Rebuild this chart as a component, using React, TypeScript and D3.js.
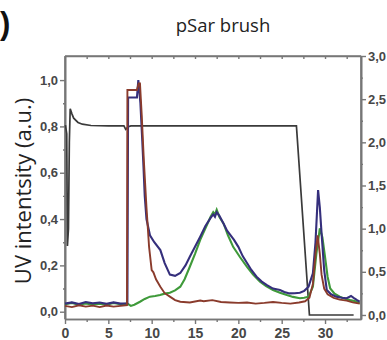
import React, { useEffect, useRef } from 'react';
import * as d3 from 'd3';

// elution traces: [time (min), intensity]
const blueTrace: [number, number][] = [
  [0, 0.035], [0.8, 0.04], [1.6, 0.033], [2.4, 0.042], [3.2, 0.036], [4, 0.04], [4.8, 0.034], [5.6, 0.04],
  [6.4, 0.035], [7.2, 0.036], [7.28, 0.925], [8.3, 0.925], [8.46, 1.0], [8.7, 0.9], [8.9, 0.75], [9.05, 0.63],
  [9.2, 0.5], [9.4, 0.4], [9.8, 0.33], [10.3, 0.3], [11.0, 0.266], [11.5, 0.21], [12.1, 0.16], [12.7, 0.155],
  [13.3, 0.167], [13.9, 0.2], [14.4, 0.237], [15.0, 0.28], [15.6, 0.324], [16.2, 0.37], [16.8, 0.405],
  [17.1, 0.42], [17.3, 0.41], [17.5, 0.43], [17.8, 0.415], [18.3, 0.38], [18.7, 0.35], [19.0, 0.335],
  [19.5, 0.31], [20.0, 0.28], [20.5, 0.24], [21.0, 0.21], [21.5, 0.18], [22.1, 0.151], [22.7, 0.13],
  [23.3, 0.115], [24.0, 0.1], [24.8, 0.094], [25.3, 0.085], [25.9, 0.079], [26.5, 0.08], [27.1, 0.082],
  [27.6, 0.09], [28.1, 0.108], [28.6, 0.166], [28.9, 0.3], [29.2, 0.525], [29.4, 0.45], [29.6, 0.338],
  [29.9, 0.18], [30.2, 0.094], [30.7, 0.075], [31.3, 0.065], [31.9, 0.06], [32.5, 0.058], [33.0, 0.068],
  [33.3, 0.06], [33.7, 0.05], [34.0, 0.043],
];

const redTrace: [number, number][] = [
  [0, 0.025], [0.8, 0.02], [1.6, 0.028], [2.4, 0.022], [3.2, 0.026], [4, 0.02], [4.8, 0.027], [5.6, 0.022],
  [6.4, 0.025], [7.15, 0.028], [7.2, 0.957], [8.3, 0.957], [8.5, 0.985], [8.65, 0.985], [8.85, 0.85],
  [9.1, 0.65], [9.4, 0.45], [9.7, 0.28], [10.0, 0.18], [10.2, 0.17], [10.5, 0.14], [11.0, 0.108],
  [11.5, 0.08], [12.1, 0.065], [12.7, 0.05], [13.3, 0.043], [14.4, 0.04], [15.6, 0.048], [16, 0.045],
  [17, 0.05], [18, 0.042], [19, 0.04], [20, 0.038], [21, 0.04], [22, 0.035], [23, 0.038], [24, 0.042],
  [25, 0.038], [26, 0.035], [27, 0.04], [27.7, 0.045], [28.2, 0.06], [28.6, 0.12], [28.9, 0.25],
  [29.15, 0.33], [29.4, 0.25], [29.6, 0.16], [29.9, 0.1], [30.3, 0.075], [31, 0.06], [31.7, 0.052],
  [32.5, 0.048], [33.2, 0.04], [34.0, 0.035],
];

const greenTrace: [number, number][] = [
  [0, 0.032], [0.8, 0.038], [1.6, 0.03], [2.4, 0.036], [3.2, 0.03], [4, 0.035], [4.8, 0.03], [5.6, 0.038],
  [6.4, 0.032], [7.2, 0.035], [7.6, 0.025], [8.0, 0.03], [8.65, 0.043], [9.2, 0.055], [9.8, 0.065],
  [10.4, 0.068], [10.96, 0.072], [11.5, 0.078], [12.1, 0.082], [12.7, 0.092], [13.3, 0.108], [13.8, 0.14],
  [14.4, 0.194], [15.0, 0.25], [15.6, 0.31], [16.2, 0.36], [16.8, 0.41], [17.1, 0.43], [17.3, 0.42],
  [17.5, 0.44], [17.8, 0.41], [18.3, 0.38], [18.8, 0.33], [19.4, 0.28], [20.2, 0.235], [21.0, 0.194],
  [21.7, 0.16], [22.5, 0.129], [23.2, 0.11], [24.0, 0.094], [24.8, 0.082], [25.6, 0.072], [26.3, 0.064],
  [27.1, 0.058], [27.6, 0.06], [28.1, 0.065], [28.6, 0.108], [29.0, 0.25], [29.4, 0.36], [29.7, 0.32],
  [30.0, 0.237], [30.3, 0.15], [30.6, 0.1], [31.1, 0.078], [31.7, 0.065], [32.3, 0.056], [32.9, 0.05],
  [33.5, 0.045], [34.0, 0.036],
];

// black trace belongs to the right axis
const blackTrace: [number, number][] = [
  [0.05, 2.2], [0.2, 2.1], [0.28, 0.8], [0.4, 1.0], [0.5, 2.0], [0.6, 2.39], [0.8, 2.33], [1.0, 2.28],
  [1.5, 2.23], [2, 2.21], [3, 2.195], [5, 2.19], [6.8, 2.19], [7.0, 2.15], [7.3, 2.18], [7.6, 2.19],
  [26.7, 2.19], [28.2, 0.0], [33.3, 0.0],
];

const xTicks = [0, 5, 10, 15, 20, 25, 30];
const leftTicks = [0, 0.2, 0.4, 0.6, 0.8, 1.0];
const rightTicks = [0, 0.5, 1.0, 1.5, 2.0, 2.5, 3.0];

const fmt = (d: number) => d.toFixed(1).replace('.', ',');

const App = () => {
  const svgRef = useRef<SVGSVGElement>(null);

  useEffect(() => {
    const svg = d3.select(svgRef.current);
    svg.selectAll('*').remove();

    const left = 65, right = 361, top = 56, bottom = 319;

    const x = d3.scaleLinear().domain([0, 34.15]).range([left, right]);
    const yL = d3.scaleLinear().domain([-0.0315, 1.104]).range([bottom, top]);
    const yR = d3.scaleLinear().domain([-0.0465, 3.0]).range([bottom, top]);

    const axisColor = '#777';
    const labelColor = '#474747';

    const styleAxis = (g: any) => {
      g.select('.domain').attr('stroke', axisColor).attr('stroke-width', 1.6);
      g.selectAll('.tick line').attr('stroke', axisColor).attr('stroke-width', 1.4);
      g.selectAll('text')
        .attr('fill', labelColor)
        .style('font-family', '"Liberation Sans", Arial, sans-serif')
        .style('font-weight', 'bold');
    };

    // minor ticks first, then major ticks with labels
    const minor = (axis: any) => axis.tickFormat(() => '').tickSizeOuter(0);

    svg.append('g').attr('transform', `translate(0,${bottom})`)
      .call(minor(d3.axisBottom(x).tickValues(d3.range(2.5, 34, 5)).tickSize(3)))
      .call(styleAxis);
    svg.append('g').attr('transform', `translate(0,${bottom})`)
      .call(d3.axisBottom(x).tickValues(xTicks).tickFormat(d3.format('d')).tickSize(5).tickSizeOuter(0).tickPadding(4))
      .call(styleAxis)
      .selectAll('text').style('font-size', '14px');

    svg.append('g').attr('transform', `translate(0,${top})`)
      .call(minor(d3.axisBottom(x).tickValues(d3.range(2.5, 34, 2.5)).tickSize(3)))
      .call(styleAxis);

    svg.append('g').attr('transform', `translate(${left},0)`)
      .call(minor(d3.axisLeft(yL).tickValues(d3.range(0.1, 1.1, 0.2)).tickSize(2)))
      .call(styleAxis);
    svg.append('g').attr('transform', `translate(${left},0)`)
      .call(d3.axisLeft(yL).tickValues(leftTicks).tickFormat(fmt as any).tickSize(5).tickSizeOuter(0).tickPadding(2))
      .call(styleAxis)
      .selectAll('text').style('font-size', '13px');

    svg.append('g').attr('transform', `translate(${right},0)`)
      .call(minor(d3.axisRight(yR).tickValues(d3.range(0.25, 3, 0.5)).tickSize(2)))
      .call(styleAxis);
    svg.append('g').attr('transform', `translate(${right},0)`)
      .call(d3.axisRight(yR).tickValues(rightTicks).tickFormat(fmt as any).tickSize(5).tickSizeOuter(0).tickPadding(2))
      .call(styleAxis)
      .selectAll('text').style('font-size', '13px');

    // frame edges
    svg.append('line').attr('x1', left).attr('x2', right).attr('y1', top).attr('y2', top)
      .attr('stroke', axisColor).attr('stroke-width', 1.6);
    svg.append('line').attr('x1', left).attr('x2', left).attr('y1', top).attr('y2', bottom)
      .attr('stroke', axisColor).attr('stroke-width', 1.6);
    svg.append('line').attr('x1', right).attr('x2', right).attr('y1', top).attr('y2', bottom)
      .attr('stroke', axisColor).attr('stroke-width', 1.6);

    const lineL = d3.line<[number, number]>().x(d => x(d[0])).y(d => yL(d[1]));
    const lineR = d3.line<[number, number]>().x(d => x(d[0])).y(d => yR(d[1]));

    svg.append('path').datum(blackTrace).attr('d', lineR)
      .attr('fill', 'none').attr('stroke', '#3a3a3a').attr('stroke-width', 1.7);
    svg.append('path').datum(greenTrace).attr('d', lineL)
      .attr('fill', 'none').attr('stroke', '#3f9a3a').attr('stroke-width', 2.1);
    svg.append('path').datum(blueTrace).attr('d', lineL)
      .attr('fill', 'none').attr('stroke', '#352f7c').attr('stroke-width', 2.1);
    svg.append('path').datum(redTrace).attr('d', lineL)
      .attr('fill', 'none').attr('stroke', '#8a3b2c').attr('stroke-width', 1.9);

    // title, panel mark, axis label
    svg.append('text').attr('x', 223).attr('y', 32).attr('text-anchor', 'middle')
      .style('font-family', '"Open Sans", sans-serif').style('font-size', '18.5px').attr('fill', '#222')
      .text('pSar brush');
    svg.append('text').attr('x', 0).attr('y', 34)
      .style('font-family', '"Liberation Sans", Arial, sans-serif').style('font-size', '31px')
      .style('font-weight', 'bold').attr('fill', '#111')
      .text(')');
    svg.append('text').attr('transform', 'translate(31,191) rotate(-90)').attr('text-anchor', 'middle')
      .style('font-family', '"Open Sans", sans-serif').style('font-size', '22px').attr('fill', '#222')
      .text('UV intentsity (a.u.)');
  }, []);

  return (
    <svg ref={svgRef} width={387} height={340}
      style={{ position: 'absolute', left: 0, top: 0, background: '#fff' }} />
  );
};

export default App;
